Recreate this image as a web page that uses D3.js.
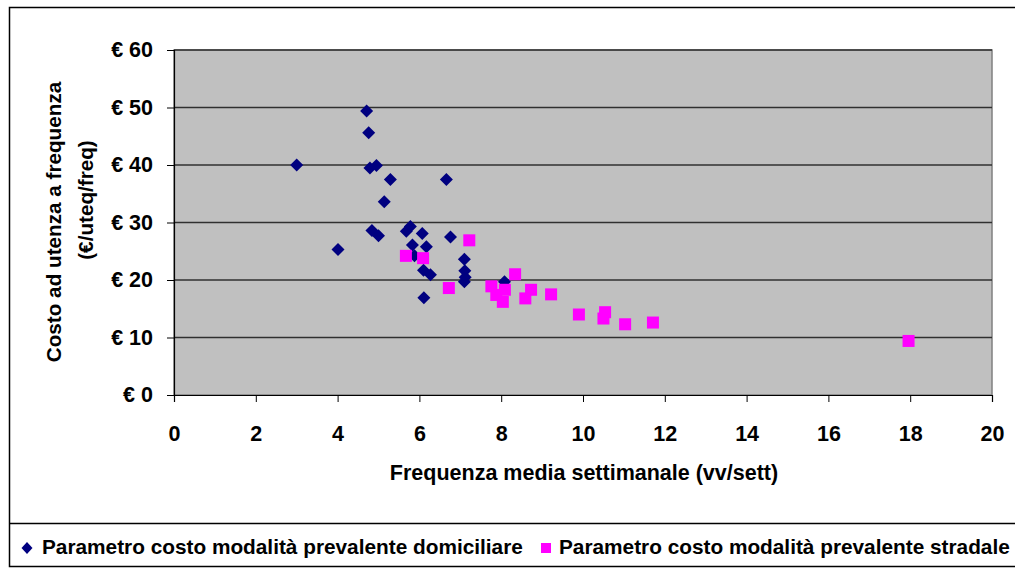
<!DOCTYPE html>
<html><head><meta charset="utf-8">
<script src="https://cdn.jsdelivr.net/npm/d3@7"></script>
<style>body{margin:0;background:#fff}svg{display:block}text{font-family:"Liberation Sans",Arial,sans-serif;font-weight:bold;fill:#000}</style>
</head><body><svg id="c" width="1015" height="569"></svg>
<script>
const domX = [4.71,4.76,3.0,4.79,4.95,5.29,6.66,5.14,4.84,5.0,4.01,5.68,5.78,6.07,6.76,5.83,6.17,5.88,6.1,6.27,6.11,7.1,7.11,7.12,7.1,8.08];
const domY = [49.4,45.6,40.0,39.5,39.9,37.5,37.5,33.6,28.6,27.7,25.3,28.5,29.3,28.1,27.5,26.1,25.8,24.2,21.7,20.9,16.9,23.6,21.6,20.5,19.7,19.7];
const strX = [5.67,6.09,7.22,6.72,8.34,7.76,8.09,7.88,8.04,8.73,8.59,9.22,9.9,10.54,10.5,11.03,11.71,17.96];
const strY = [24.2,23.8,26.9,18.6,21.0,18.9,18.3,17.4,16.2,18.3,16.8,17.5,14.0,14.4,13.3,12.3,12.6,9.4];
const xTicks = [0,2,4,6,8,10,12,14,16,18,20];
const yTicks = [0,10,20,30,40,50,60];
const seriesNames = ["Parametro costo modalità prevalente domiciliare","Parametro costo modalità prevalente stradale"];
const xTitle = "Frequenza media settimanale (vv/sett)";
const yTitle1 = "Costo ad utenza a frequenza";
const yTitle2 = "(€/uteq/freq)";

const svg = d3.select("#c");
svg.append("rect").attr("x",9.5).attr("y",7.5).attr("width",1010).attr("height",559).attr("fill","#fff").attr("stroke","#000").attr("stroke-width",1.5);
svg.append("line").attr("x1",9).attr("x2",1015).attr("y1",523.5).attr("y2",523.5).attr("stroke","#000").attr("stroke-width",1.5);

const L=174,R=992,T=50,B=395;
const x = d3.scaleLinear().domain([0,20]).range([L,R]);
const y = d3.scaleLinear().domain([0,60]).range([B,T]);

function fit(str, w){
  const p = svg.append("text").style("font-size","18px").text(str);
  const s = Math.round(18*w/p.node().getComputedTextLength()*10)/10;
  p.remove(); return s+"px";
}
const FS = fit(xTitle,388);
const FSY = fit(yTitle1,280);
const FSL = fit(seriesNames[1],450);

svg.append("rect").attr("x",L).attr("y",T).attr("width",R-L).attr("height",B-T).attr("fill","#c0c0c0").attr("stroke","#808080").attr("stroke-width",1.5);
svg.append("g").selectAll("line").data(yTicks.filter(d=>d>0)).join("line")
  .attr("x1",L).attr("x2",R).attr("y1",d=>y(d)).attr("y2",d=>y(d)).attr("stroke","#303030").attr("stroke-width",1.5);

const xa = svg.append("g").attr("transform",`translate(0,${B})`).call(d3.axisBottom(x).tickValues(xTicks).tickSize(7).tickPadding(24).tickFormat(d3.format("d")));
const ya = svg.append("g").attr("transform",`translate(${L},0)`).call(d3.axisLeft(y).tickValues(yTicks).tickSize(7).tickPadding(14).tickFormat(d=>"€ "+d));
[xa,ya].forEach(a=>{a.select(".domain").attr("stroke","#000").attr("stroke-width",1.2);a.selectAll(".tick line").attr("stroke","#000");a.selectAll("text").style("font-size",FS).style("font-family","'Liberation Sans', Arial, sans-serif").style("font-weight","bold");});

svg.append("text").attr("x",584).attr("y",480).attr("text-anchor","middle").style("font-size",FS).text(xTitle);
svg.append("text").attr("transform","translate(61,222) rotate(-90)").attr("text-anchor","middle").style("font-size",FSY).text(yTitle1);
svg.append("text").attr("transform","translate(93,200) rotate(-90)").attr("text-anchor","middle").style("font-size",FSY).text(yTitle2);

const dom = domX.map((v,i)=>({x:v,y:domY[i]}));
const str = strX.map((v,i)=>({x:v,y:strY[i]}));
const ds=6.5;
svg.append("g").selectAll("path").data(dom).join("path")
  .attr("d",d=>{const cx=x(d.x),cy=y(d.y);return `M${cx},${cy-ds}L${cx+ds},${cy}L${cx},${cy+ds}L${cx-ds},${cy}Z`;})
  .attr("fill","#000080");
svg.append("g").selectAll("rect").data(str).join("rect")
  .attr("x",d=>x(d.x)-6).attr("y",d=>y(d.y)-6).attr("width",12).attr("height",12).attr("fill","#ff00ff");

// legend
const ly=548;
svg.append("path").attr("d",`M27,${ly-6}L32.5,${ly}L27,${ly+6}L21.5,${ly}Z`).attr("fill","#000080");
svg.append("text").attr("x",42).attr("y",ly+6).style("font-size",FSL).text(seriesNames[0]);
svg.append("rect").attr("x",541).attr("y",ly-5).attr("width",10).attr("height",10).attr("fill","#ff00ff");
svg.append("text").attr("x",559).attr("y",ly+6).style("font-size",FSL).text(seriesNames[1]);
</script></body></html>
